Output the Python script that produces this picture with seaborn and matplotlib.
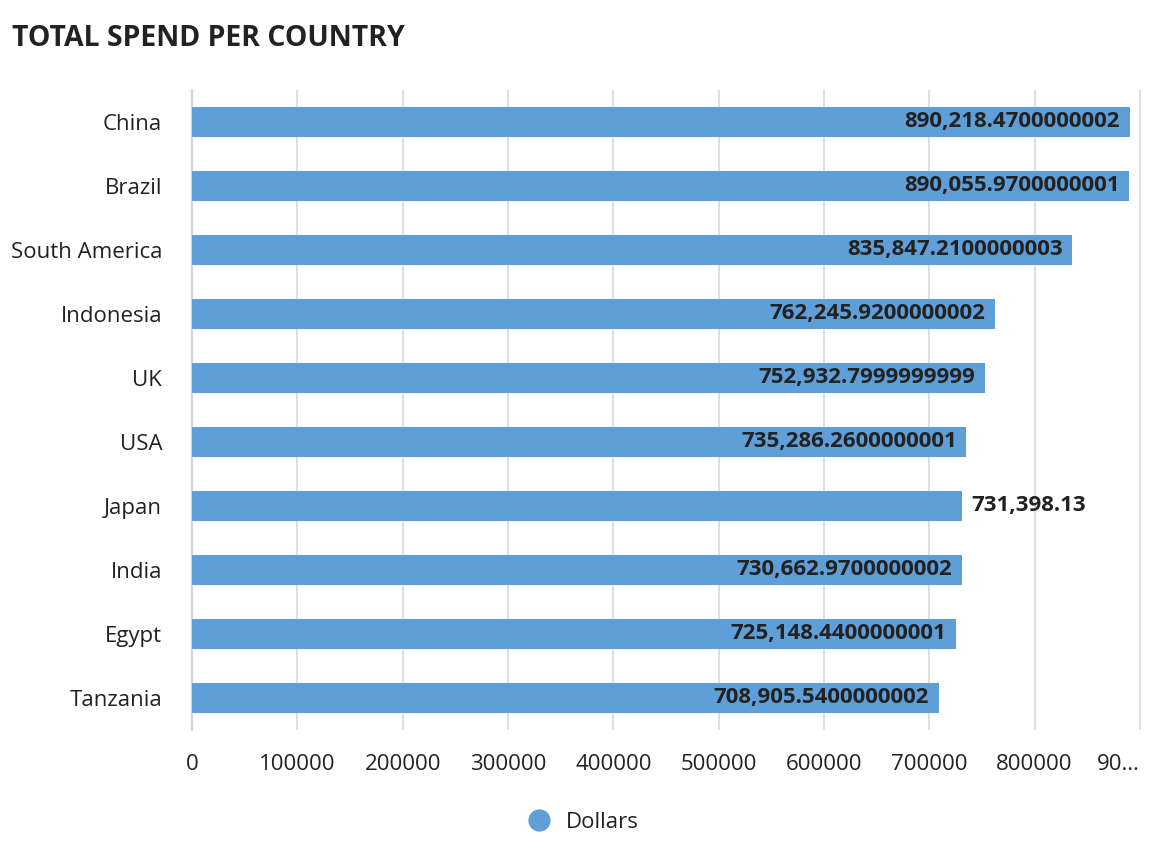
import matplotlib
matplotlib.use("Agg")
import matplotlib.pyplot as plt
import seaborn as sns
import pandas as pd
from matplotlib.lines import Line2D

countries = ["China", "Brazil", "South America", "Indonesia", "UK", "USA",
             "Japan", "India", "Egypt", "Tanzania"]
dollars = [890218.4700000002, 890055.9700000001, 835847.2100000003, 762245.9200000002,
           752932.7999999999, 735286.2600000001, 731398.13, 730662.9700000002,
           725148.4400000001, 708905.5400000002]
outside_label = ["Japan"]
x_ticks = [0, 100000, 200000, 300000, 400000, 500000, 600000, 700000, 800000, 900000]
x_ticklabels = ["0", "100000", "200000", "300000", "400000", "500000", "600000",
                "700000", "800000", "90…"]

df = pd.DataFrame({"Country": countries, "Dollars": dollars})

sns.set_theme(style="white")
plt.rcParams["font.family"] = ["Open Sans", "DejaVu Sans"]

BAR = "#5f9ed6"
TXT = "#222222"

fig = plt.figure(figsize=(11.52, 8.58), dpi=100)
ax = fig.add_axes([192/1152, 1-730/858, (1143-192)/1152, (730-90)/858])

sns.barplot(data=df, x="Dollars", y="Country", orient="h", color=BAR,
            saturation=1, width=0.47, ax=ax, zorder=3, linewidth=0)

ax.set_xlim(0, 903000)
ax.set_ylim(9.5, -0.5)
ax.set_xticks(x_ticks)
ax.set_xticklabels(x_ticklabels)
ax.grid(axis="x", color="#e0e0e0", linewidth=1.5, zorder=0)
ax.set_axisbelow(True)
for s in ["top", "right", "bottom"]:
    ax.spines[s].set_visible(False)
ax.spines["left"].set_color("#d6d6d6")
ax.spines["left"].set_linewidth(1.5)
ax.tick_params(axis="x", length=10, width=1.5, color="#e0e0e0", labelsize=16,
               labelcolor=TXT, pad=7)
ax.tick_params(axis="y", length=0, labelsize=16, labelcolor=TXT, pad=21.5)
ax.set_xlabel("")
ax.set_ylabel("")
last = ax.get_xticklabels()[-1]
last.set_horizontalalignment("right")

for i, (c, v) in enumerate(zip(countries, dollars)):
    label = f"{v:,}"
    if c in outside_label:
        ax.text(v + 9000, i, label, ha="left", va="center", fontsize=16,
                fontweight="bold", color=TXT, zorder=4)
    else:
        ax.text(v - 9000, i, label, ha="right", va="center", fontsize=16,
                fontweight="bold", color=TXT, zorder=4)

fig.text(12/1152, 1-38/858, "TOTAL SPEND PER COUNTRY", fontsize=20.4,
         fontweight="bold", color=TXT, ha="left", va="center")

handle = Line2D([], [], marker="o", linestyle="none", markersize=15,
                markerfacecolor=BAR, markeredgecolor=BAR)
fig.legend([handle], ["Dollars"], loc="center", bbox_to_anchor=(578/1152, 1-822/858),
           frameon=False, fontsize=16, labelcolor=TXT, handletextpad=0.2)

fig.savefig("out.png", dpi=100)
